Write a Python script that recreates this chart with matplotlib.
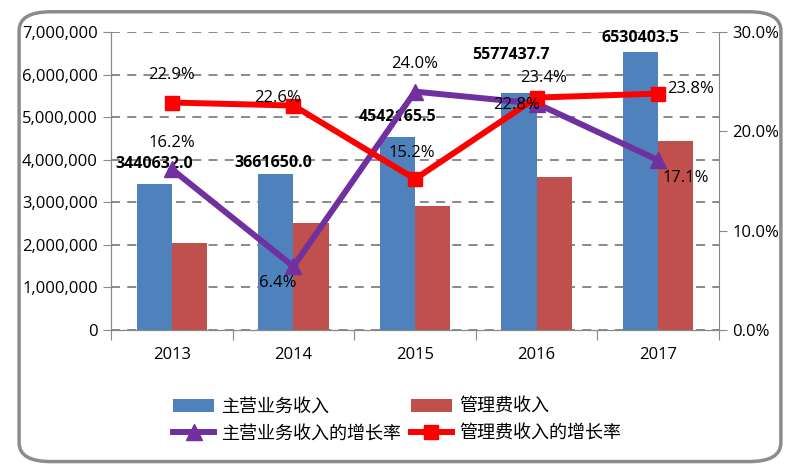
import matplotlib
matplotlib.use("Agg")
import matplotlib.pyplot as plt
from matplotlib.patches import FancyBboxPatch
from matplotlib.ticker import FuncFormatter, FixedLocator
import numpy as np

plt.rcParams['font.family'] = ['Open Sans', 'Noto Sans CJK SC', 'DejaVu Sans']

years = ['2013', '2014', '2015', '2016', '2017']
main_income = [3440632.0, 3661650.0, 4542165.5, 5577437.7, 6530403.5]
mgmt_income = [2040000, 2510000, 2910000, 3590000, 4440000]
main_growth = [16.2, 6.4, 24.0, 22.8, 17.1]
mgmt_growth = [22.9, 22.6, 15.2, 23.4, 23.8]

# label offsets in points (dx, dy), tuned by eye
main_lbl_off = [(0, 14), (-2, 8), (0, 14), (-6, 27), (0, 10)]
main_g_off = [(0, 19), (-11.5, -12), (0, 20), (-14.5, -1), (20, -13)]
mgmt_g_off = [(0, 20), (-11.5, 5.4), (-2, 19), (5, 14), (23, 3)]

fig = plt.figure(figsize=(7.96, 4.71), dpi=100)
border = FancyBboxPatch((0.024, 0.02), 0.957, 0.955, transform=fig.transFigure,
                        boxstyle="round,pad=0,rounding_size=0.04",
                        fc='none', ec='#8c8c8c', lw=2.5, zorder=0)
fig.patches.append(border)

ax = fig.add_axes([0.1394, 0.2994, 0.7639, 0.6326])
ax2 = ax.twinx()

x = np.arange(len(years))
w = 0.29
ax.bar(x - w / 2, main_income, w, color='#4f81bd', label='主营业务收入', zorder=2)
ax.bar(x + w / 2, mgmt_income, w, color='#c0504d', label='管理费收入', zorder=2)

for i, v in enumerate(main_income):
    ax.annotate(f'{v:.1f}', (x[i] - w / 2, v), xytext=main_lbl_off[i], textcoords='offset points',
                ha='center', va='center', fontsize=11.5, fontweight='bold', color='black', zorder=5)

l1, = ax2.plot(x, main_growth, color='#7030a0', lw=4.3, marker='^', ms=11, label='主营业务收入的增长率', zorder=3)
l2, = ax2.plot(x, mgmt_growth, color='#ff0000', lw=4.3, marker='s', ms=10, label='管理费收入的增长率', zorder=4)

for i, v in enumerate(main_growth):
    ax2.annotate(f'{v:.1f}%', (x[i], v), xytext=main_g_off[i], textcoords='offset points',
                 ha='center', va='center', fontsize=12, color='black', zorder=6)
for i, v in enumerate(mgmt_growth):
    ax2.annotate(f'{v:.1f}%', (x[i], v), xytext=mgmt_g_off[i], textcoords='offset points',
                 ha='center', va='center', fontsize=12, color='black', zorder=6)

ax.set_xlim(-0.5, len(years) - 0.5)
ax.set_ylim(0, 7000000)
ax2.set_ylim(0, 30)
ax.set_yticks(np.arange(0, 7000001, 1000000))
ax.yaxis.set_major_formatter(FuncFormatter(lambda v, p: f'{int(v):,}'))
ax2.set_yticks([0, 10, 20, 30])
ax2.yaxis.set_major_formatter(FuncFormatter(lambda v, p: f'{v:.1f}%'))

ax.xaxis.set_major_locator(FixedLocator(np.arange(-0.5, len(years), 1.0)))
ax.set_xticklabels([])
ax.xaxis.set_minor_locator(FixedLocator(x))
ax.set_xticklabels(years, minor=True)
ax.tick_params(axis='x', which='major', length=7, color='#888888')
ax.tick_params(axis='x', which='minor', length=0, pad=12, labelsize=12)
ax.tick_params(axis='y', length=6, color='#888888', labelsize=12)
ax2.tick_params(axis='y', length=6, color='#888888', labelsize=12)

ax.grid(axis='y', ls=(0, (5, 4)), color='#808080', lw=1.3, zorder=1)
ax.set_axisbelow(True)
for a in (ax, ax2):
    a.spines['top'].set_visible(False)
    for s in ('left', 'right', 'bottom'):
        a.spines[s].set_color('#888888')
ax.spines['right'].set_visible(False)

handles = [ax.patches[0], l1, ax.patches[len(years)], l2]
labels = ['主营业务收入', '主营业务收入的增长率', '管理费收入', '管理费收入的增长率']
fig.legend(handles, labels, ncol=2, loc='center', bbox_to_anchor=(0.499, 0.108), frameon=False,
           prop={'family': ['Noto Sans CJK SC'], 'size': 13}, handlelength=2.3,
           columnspacing=0.5, labelspacing=0.5, handletextpad=0.4)

fig.savefig('out.png', dpi=100)
